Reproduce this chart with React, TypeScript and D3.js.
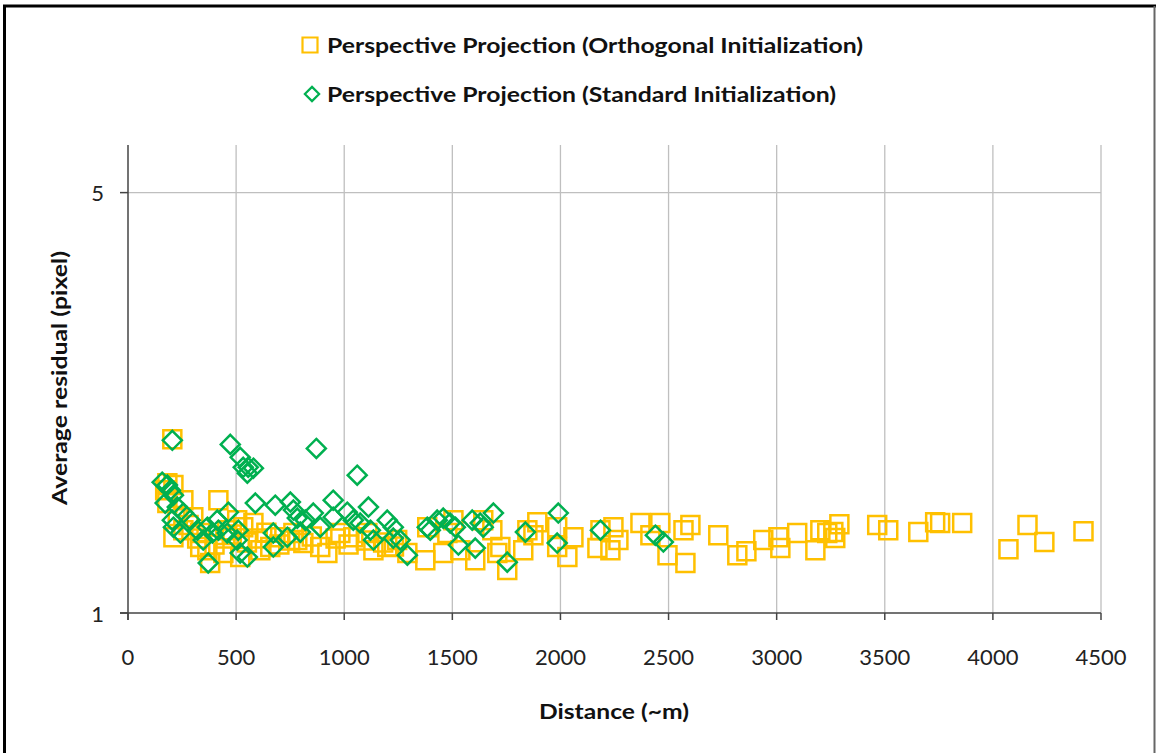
import * as React from 'react';
import * as d3 from 'd3';

// [distance (~m), average residual (pixel)]
const orthoInit: [number, number][] = [
  [205, 1.945], [182, 1.644], [172, 1.6], [210, 1.632], [182, 1.523], [418, 1.54],
  [210, 1.337], [256, 1.54], [302, 1.443], [334, 1.358], [367, 1.272], [380, 1.211],
  [441, 1.258], [459, 1.373], [505, 1.427], [533, 1.389], [580, 1.411], [519, 1.239],
  [612, 1.272], [658, 1.287], [704, 1.337], [765, 1.358], [811, 1.307], [889, 1.287],
  [922, 1.258], [783, 1.322], [982, 1.358], [1042, 1.337], [1107, 1.358], [1135, 1.272],
  [1199, 1.287], [1245, 1.322], [1292, 1.258], [1375, 1.224], [1384, 1.389], [334, 1.287],
  [256, 1.373], [230, 1.45], [280, 1.4], [320, 1.33], [400, 1.3], [450, 1.33],
  [480, 1.35], [550, 1.31], [600, 1.33], [640, 1.36], [700, 1.3], [750, 1.32],
  [850, 1.34], [960, 1.33], [1020, 1.3], [1100, 1.32], [1180, 1.31], [1230, 1.29],
  [1458, 1.258], [1505, 1.427], [1477, 1.358], [1537, 1.272], [1606, 1.224], [1643, 1.427],
  [1685, 1.373], [1708, 1.258], [1754, 1.179], [1722, 1.287], [1828, 1.272], [1847, 1.373],
  [1893, 1.416], [1875, 1.347], [1985, 1.389], [1985, 1.287], [2032, 1.239], [2060, 1.337],
  [2185, 1.373], [2171, 1.282], [2245, 1.389], [2231, 1.272], [2268, 1.322], [2370, 1.411],
  [2462, 1.411], [2416, 1.347], [2495, 1.248], [2578, 1.211], [2569, 1.373], [2601, 1.4],
  [2730, 1.347], [2818, 1.248], [2860, 1.267], [2938, 1.322], [3008, 1.337], [3017, 1.282],
  [3095, 1.358], [3179, 1.272], [3202, 1.373], [3234, 1.358], [3262, 1.363], [3290, 1.405],
  [3271, 1.332], [3465, 1.4], [3516, 1.373], [3655, 1.363], [3733, 1.416], [3756, 1.411],
  [3858, 1.411], [4160, 1.4], [4238, 1.312], [4072, 1.277], [4419, 1.368],
];

const standardInit: [number, number][] = [
  [205, 1.937], [473, 1.907], [519, 1.815], [556, 1.747], [533, 1.747], [580, 1.741],
  [552, 1.708], [871, 1.878], [1060, 1.695], [158, 1.65], [182, 1.632], [196, 1.6],
  [210, 1.57], [172, 1.523], [228, 1.5], [256, 1.466], [288, 1.427], [205, 1.427],
  [210, 1.389], [242, 1.358], [321, 1.373], [367, 1.389], [413, 1.427], [464, 1.471],
  [390, 1.358], [418, 1.373], [348, 1.322], [371, 1.211], [459, 1.358], [505, 1.322],
  [519, 1.258], [552, 1.239], [510, 1.373], [589, 1.523], [681, 1.511], [751, 1.529],
  [765, 1.483], [783, 1.438], [857, 1.466], [820, 1.427], [797, 1.363], [672, 1.358],
  [672, 1.287], [737, 1.337], [889, 1.389], [949, 1.54], [949, 1.443], [1014, 1.471],
  [1042, 1.427], [1112, 1.5], [1074, 1.411], [1121, 1.373], [1199, 1.427], [1227, 1.389],
  [1135, 1.322], [1227, 1.332], [1292, 1.248], [1384, 1.389], [1430, 1.427], [1398, 1.373],
  [1458, 1.438], [1490, 1.411], [1514, 1.389], [1528, 1.297], [1592, 1.427], [1629, 1.411],
  [1643, 1.389], [1690, 1.466], [1606, 1.282], [1754, 1.215], [1838, 1.363], [1990, 1.466],
  [1985, 1.307], [2185, 1.373], [2439, 1.347], [2476, 1.312], [1259, 1.322],
];

const xTicks = [0, 500, 1000, 1500, 2000, 2500, 3000, 3500, 4000, 4500];
const yTicks = [1, 5];
const seriesNames = [
  'Perspective Projection (Orthogonal Initialization)',
  'Perspective Projection (Standard Initialization)',
];

const ORANGE = '#FFC000';
const GREEN = '#00B050';
const FONT = 'Lato, Calibri, sans-serif';

const App = () => {
  const left = 128;
  const right = 1101;
  const top = 145;
  const bottom = 613;

  const x = d3.scaleLinear().domain([0, 4500]).range([left, right]);
  const y = d3.scaleLog().domain([1, 6]).range([bottom, top]);

  const square = d3.symbol().type(d3.symbolSquare).size(18 * 18)();
  const diamond = d3.symbol().type(d3.symbolDiamond2).size(230)();
  const legendSquare = d3.symbol().type(d3.symbolSquare).size(15 * 15)();
  const legendDiamond = d3.symbol().type(d3.symbolDiamond2).size(130)();

  return (
    <svg width={1156} height={753} style={{ position: 'absolute', left: 0, top: 0, background: '#fff' }}>
      <rect width={1156} height={753} fill='#fff' />
      {/* frame */}
      <line x1={4.5} x2={4.5} y1={5} y2={753} stroke='#000' strokeWidth={3} />
      <line x1={3} x2={1156} y1={6} y2={6} stroke='#000' strokeWidth={3} />
      <line x1={1154.5} x2={1154.5} y1={6} y2={753} stroke='#666' strokeWidth={2} />

      {/* legend */}
      <g fontFamily={FONT} fontWeight='bold' fontSize={20} fill='#111'>
        <path d={legendSquare} transform='translate(310,45)' fill='none' stroke={ORANGE} strokeWidth={2.2} />
        <text x={327} y={45} dominantBaseline='central' textLength={536} lengthAdjust='spacingAndGlyphs'>
          {seriesNames[0]}
        </text>
        <path d={legendDiamond} transform='translate(312,94)' fill='none' stroke={GREEN} strokeWidth={2.2} />
        <text x={327} y={94} dominantBaseline='central' textLength={509} lengthAdjust='spacingAndGlyphs'>
          {seriesNames[1]}
        </text>
      </g>

      {/* grid */}
      {xTicks.slice(1).map((t) => (
        <line key={'gx' + t} x1={x(t)} x2={x(t)} y1={top} y2={bottom} stroke='#bfbfbf' strokeWidth={1.3} />
      ))}
      {yTicks.slice(1).map((t) => (
        <line key={'gy' + t} x1={left} x2={right} y1={y(t)} y2={y(t)} stroke='#bfbfbf' strokeWidth={1.3} />
      ))}

      {/* axes */}
      <line x1={left} x2={left} y1={top} y2={bottom + 7} stroke='#444' strokeWidth={1.5} />
      <line x1={left - 8} x2={right} y1={bottom} y2={bottom} stroke='#444' strokeWidth={1.5} />
      {yTicks.map((t) => (
        <g key={'yt' + t}>
          <line x1={left - 8} x2={left} y1={y(t)} y2={y(t)} stroke='#444' strokeWidth={1.5} />
          <text x={104} y={y(t)} textAnchor='end' dominantBaseline='central' fontFamily={FONT} fontSize={22} fill='#222'>
            {t}
          </text>
        </g>
      ))}
      {xTicks.map((t) => (
        <g key={'xt' + t}>
          <line x1={x(t)} x2={x(t)} y1={bottom} y2={bottom + 7} stroke='#444' strokeWidth={1.5} />
          <text x={x(t)} y={656} textAnchor='middle' dominantBaseline='central' fontFamily={FONT} fontSize={22} fill='#222'>
            {t}
          </text>
        </g>
      ))}

      {/* axis titles */}
      <text x={614} y={710} textAnchor='middle' dominantBaseline='central' fontFamily={FONT} fontWeight='bold' fontSize={21}
        fill='#111' textLength={150} lengthAdjust='spacingAndGlyphs'>
        Distance (~m)
      </text>
      <text
        transform='translate(58,378) rotate(-90)'
        textAnchor='middle'
        dominantBaseline='central'
        fontFamily={FONT}
        fontWeight='bold'
        fontSize={21}
        fill='#111'
        textLength={254}
        lengthAdjust='spacingAndGlyphs'>
        Average residual (pixel)
      </text>

      {/* points */}
      <g>
        {orthoInit.map((d, i) => (
          <path key={'o' + i} d={square} transform={`translate(${x(d[0])},${y(d[1])})`} fill='none' stroke={ORANGE} strokeWidth={2.5} />
        ))}
      </g>
      <g>
        {standardInit.map((d, i) => (
          <path key={'s' + i} d={diamond} transform={`translate(${x(d[0])},${y(d[1])})`} fill='none' stroke={GREEN} strokeWidth={2.5} />
        ))}
      </g>
    </svg>
  );
};

export default App;
